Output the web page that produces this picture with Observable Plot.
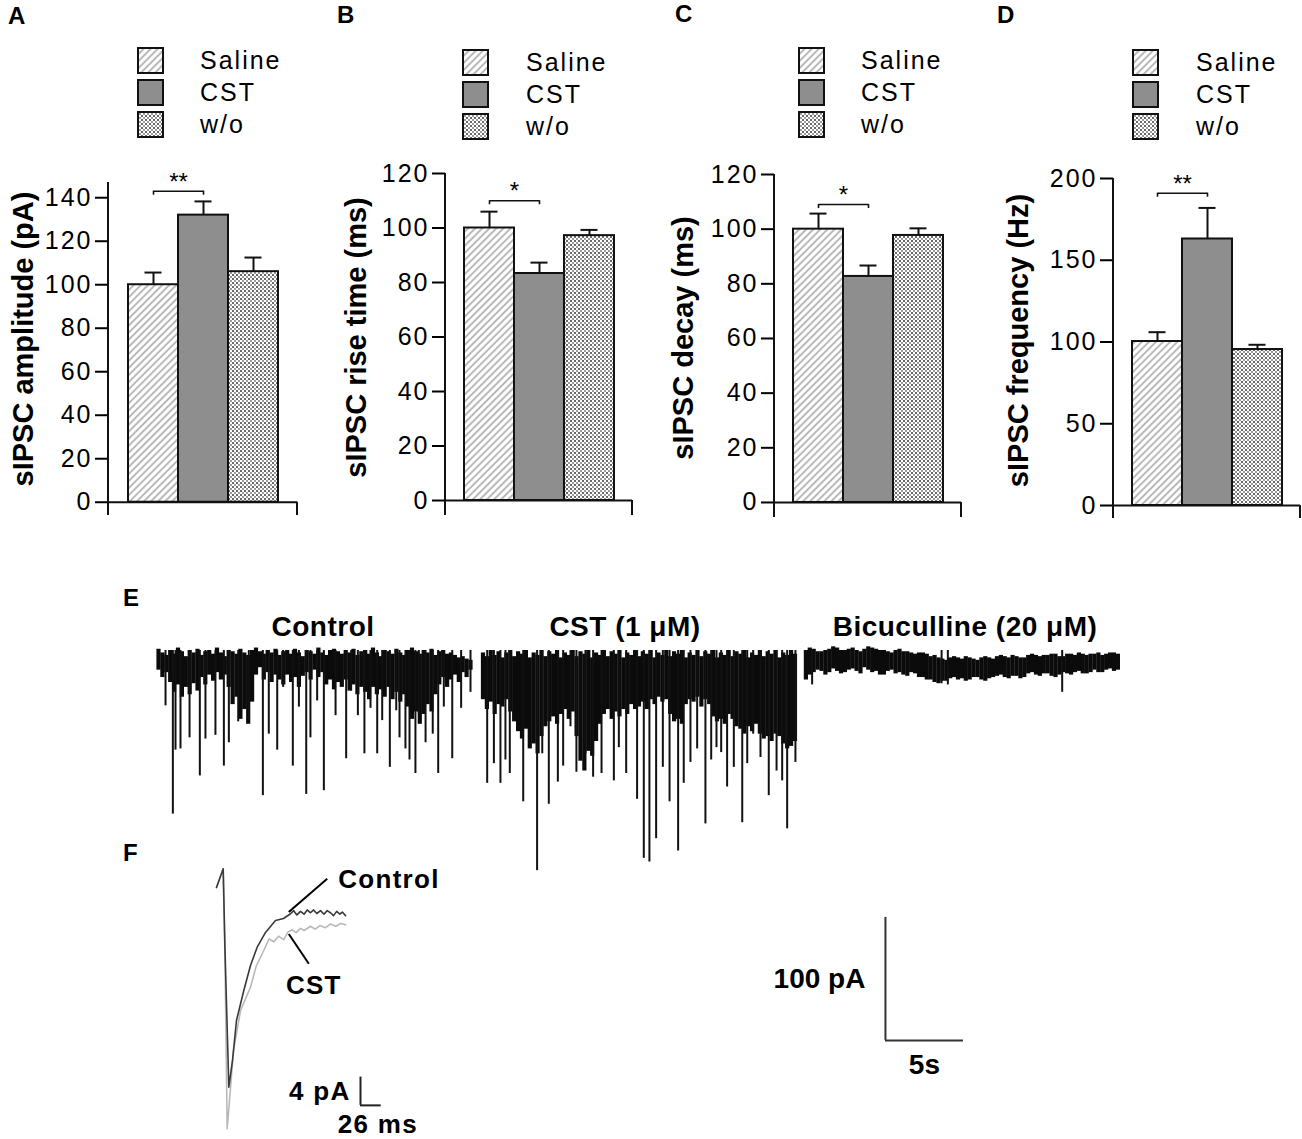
<!DOCTYPE html>
<html>
<head>
<meta charset="utf-8">
<script src="https://cdn.jsdelivr.net/npm/d3@7"></script>
<script src="https://cdn.jsdelivr.net/npm/@observablehq/plot@0.6"></script>
<style>
  html,body{margin:0;padding:0;background:#fff;}
  #fig{position:relative;width:1302px;height:1139px;overflow:hidden;background:#fff;
       font-family:"Liberation Sans",Arial,Helvetica,sans-serif;color:#000;}
  .abs{position:absolute;white-space:nowrap;line-height:1;}
  .panel{font-weight:bold;font-size:24px;letter-spacing:1px;}
  .leg{font-size:25px;letter-spacing:2px;line-height:25px;height:25px;}
  .ttl{font-weight:bold;font-size:28px;letter-spacing:0.5px;transform:translateX(-50%);}
</style>
</head>
<body>
<svg width="0" height="0" style="position:absolute">
 <defs>
  <pattern id="hatch" patternUnits="userSpaceOnUse" width="5" height="5" patternTransform="rotate(45)">
    <rect width="5" height="5" fill="#fff"/>
    <line x1="1" y1="0" x2="1" y2="5" stroke="#8c8c8c" stroke-width="1.2"/>
  </pattern>
  <pattern id="checker" patternUnits="userSpaceOnUse" width="4" height="4">
    <rect width="4" height="4" fill="#fff"/>
    <rect x="0" y="0" width="2" height="2" fill="#6a6a6a"/>
    <rect x="2" y="2" width="2" height="2" fill="#9a9a9a"/>
  </pattern>
 </defs>
</svg>
<div id="fig"></div>
<script>
// ================= DATA =================
const groups = ["Saline", "CST", "w/o"];

const amplitudeMean = [100, 132, 106];
const amplitudeSem  = [5.6, 6.3, 6.5];
const riseMean  = [100, 83.3, 97.2];
const riseSem   = [6.0, 4.0, 2.1];
const decayMean = [100, 82.7, 97.7];
const decaySem  = [5.7, 4.0, 2.6];
const freqMean  = [100.3, 163, 95.4];
const freqSem   = [5.7, 19, 2.9];

const amplitudeTicks = [0, 20, 40, 60, 80, 100, 120, 140];
const riseTicks  = [0, 20, 40, 60, 80, 100, 120];
const decayTicks = [0, 20, 40, 60, 80, 100, 120];
const freqTicks  = [0, 50, 100, 150, 200];

const sigAmplitude = {from: "Saline", to: "CST", y: 143, stars: "**"};
const sigRise      = {from: "Saline", to: "CST", y: 110, stars: "*"};
const sigDecay     = {from: "Saline", to: "CST", y: 109, stars: "*"};
const sigFreq      = {from: "Saline", to: "CST", y: 191, stars: "**"};

// Panel E: sampled noise envelope of each recording (pA), one sample every 0.25 s
const sampleInterval = 0.25;
const controlStart = 0;
const controlTop = [
  1,-2,-4,0,-3,2,-1,-5,0,-2,   1,-4,-1,0,-3,2,-2,-5,0,-1,
 -3,1,-2,-4,0,2,-1,-3,0,-2,    1,-4,-1,0,-3,1,-2,-5,0,-1,
 -3,2,-2,-4,0,1,-1,-3,0,-2,    1,-4,-1,0,-3,2,-2,-5,0,-1,
 -3,1,-2,-4,0,2,-1,-3,0,-2,    1,-4,-1,0,-3,-2,-4,-6,-5,-7, -8
];
const controlBottom = [
 -16,-22,-18,-26,-34,-28,-38,-30,-36,-27,  -33,-22,-28,-20,-25,-18,-24,-20,-30,-44,
 -38,-56,-48,-60,-42,-20,-14,-24,-18,-26,  -20,-24,-28,-20,-26,-22,-30,-21,-18,-24,
 -16,-22,-18,-28,-24,-32,-26,-30,-24,-33,  -28,-36,-30,-34,-40,-30,-36,-32,-38,-30,
 -40,-34,-42,-36,-46,-56,-50,-60,-52,-44,  -50,-36,-28,-22,-30,-24,-20,-26,-18,-22, -16
];
const cstStart = 20.8;
const cstTop = [
 -2,-5,0,-4,-1,-6,-2,0,-5,-1,  -3,0,-6,-2,-4,0,-5,-1,-3,0,
 -6,-2,-4,0,-5,-1,-3,0,-6,-2,  -4,0,-5,-1,-3,0,-6,-2,-4,0,
 -5,-1,-3,0,-6,-2,-4,0,-5,-1,  -3,0,-6,-2,-4,0,-5,-1,-3,0,
 -6,-2,-4,0,-5,-1,-3,0,-6,-2,  -4,0,-5,-1,-3,0,-6,-2,-4,0, -3
];
const cstBottom = [
 -40,-48,-42,-52,-44,-46,-40,-50,-58,-66,  -72,-64,-80,-76,-84,-70,-62,-58,-54,-60,
 -52,-48,-56,-50,-70,-90,-98,-82,-86,-74,  -60,-52,-48,-56,-50,-54,-48,-52,-44,-48,
 -46,-42,-48,-40,-44,-38,-42,-40,-52,-58,  -56,-60,-44,-40,-42,-38,-46,-40,-44,-54,
 -58,-56,-60,-52,-56,-62,-64,-68,-62,-66,  -60,-68,-72,-70,-74,-68,-70,-76,-80,-78, -74
];
const bicStart = 41.5;
const bicTop = [
  0,2,1,-1,-1,0,1,3,2,0,       0,1,2,0,-1,1,3,2,1,0,
  0,-1,-2,0,1,-1,-1,-2,-3,-2,  -2,-3,-5,-4,-6,-7,-8,-6,-5,-6,
 -7,-5,-6,-7,-8,-6,-5,-6,-7,-5, -4,-5,-6,-4,-5,-6,-6,-4,-3,-4,
 -5,-4,-4,-3,-3,-5,-5,-3,-3,-4, -2,-3,-4,-3,-3,-2,-4,-3,-2,-2, -3
];
const bicBottom = [
 -24,-20,-18,-16,-17,-20,-18,-15,-17,-19,  -18,-16,-15,-17,-19,-14,-16,-18,-17,-20,
 -20,-17,-16,-19,-18,-20,-21,-18,-19,-22,  -22,-24,-24,-26,-27,-25,-25,-23,-22,-24,
 -23,-25,-24,-22,-22,-24,-25,-23,-22,-21,  -20,-22,-23,-21,-21,-23,-22,-19,-18,-20,
 -21,-19,-19,-21,-22,-20,-18,-19,-20,-18,  -17,-19,-19,-18,-16,-18,-18,-16,-15,-17, -16
];
// Event tips [t (s), peak current (pA)]
const controlSpikes = [
 [0.45,-45],[0.92,-133],[1.09,-81],[1.41,-80],[1.99,-71],[2.65,-102],[3.01,-72],[3.65,-69],[4.19,-94],
 [4.51,-75],[5.11,-58],[5.79,-57],[6.69,-118],[7.07,-68],[7.61,-81],[7.99,-30],[8.61,-94],[9.0,-46],
 [9.47,-117],[9.74,-71],[10.17,-41],[10.6,-114],[11.35,-53],[12.03,-88],[12.35,-33],[12.78,-53],
 [13.2,-84],[13.59,-47],[14.02,-84],[14.34,-57],[14.83,-95],[15.24,-49],[15.45,-71],[15.83,-80],
 [16.09,-89],[16.47,-100],[16.69,-52],[17.12,-75],[17.58,-68],[17.93,-100],[18.29,-46],[18.83,-88],
 [19.4,-47],[20.0,-34]
];
const cstSpikes = [
 [21.07,-108],[21.5,-92],[21.92,-108],[22.24,-89],[22.52,-100],[23.38,-123],[24.27,-179],[24.6,-84],
 [25.02,-125],[25.6,-107],[25.94,-94],[26.41,-62],[26.79,-99],[27.37,-84],[27.86,-103],[28.4,-100],
 [29.19,-106],[29.51,-79],[29.98,-100],[30.68,-121],[31.11,-169],[31.47,-172],[31.9,-153],[32.33,-95],
 [32.76,-123],[33.31,-163],[33.67,-108],[34.1,-91],[34.53,-80],[35.06,-141],[35.43,-89],[35.77,-79],
 [36.07,-83],[36.45,-111],[36.88,-95],[37.42,-140],[37.74,-92],[38.12,-68],[38.59,-87],[39.12,-118],
 [39.62,-98],[39.98,-106],[40.3,-145],[40.83,-91]
];
const bicSpikes = [[41.9,-28],[50.2,-27],[50.6,-28],[57.93,-34]];
const traceTitles = ["Control", "CST (1 μM)", "Bicuculline (20 μM)"];
const eScaleBar = {t: 46.6, i: -317, dt: 5, di: 100, tLabel: "5s", iLabel: "100 pA"};

// Panel F averaged sIPSCs: [time (ms), current (pA)]
const fControl = [
 [0,3.67],[8.4,6.31],[10.7,-5.23],[15.5,-24.53],[20.1,-20.76],[25.1,-15.11],[34.3,-10.88],[42.7,-7.34],
 [51.1,-4.76],[61.6,-2.68],[74.1,-0.99],[84.2,-0.71],[93,-0.04],[97,0.4],[101,-0.2],[105.5,0.3],[110,-0.1],
 [114,0.5],[118.1,0.1],[122,0.5],[126,0],[130.7,0.4],[135,-0.1],[139,0.4],[143.2,0.1],[147,-0.3],
 [151,0.3],[155,-0.1],[158,0.2],[162.1,-0.3]
];
const fCst = [
 [0,3.67],[8.4,6.31],[10.7,-6.64],[13.4,-30.41],[16.3,-26.41],[21.4,-19.35],[30.2,-13.7],[42.7,-10.41],
 [50,-7.4],[59.4,-5.23],[66,-3.6],[72,-4.0],[78,-3.2],[84.5,-3.7],[90,-2.6],[95.1,-2.3],[100,-2.7],
 [105.5,-2.1],[110,-2.4],[118.1,-1.8],[124,-2.2],[130,-1.7],[137,-2.0],[143,-1.5],[150,-1.8],[156,-1.4],[162.1,-1.6]
];
const fLeaders = [
 {label: "Control", t1: 90.8, i1: 0.2, t2: 139.1, i2: 4.9},
 {label: "CST", t1: 90.8, i1: -2.9, t2: 116, i2: -7.1}
];
const fScaleBar = {t: 180.9, i: -27.1, dt: 26, di: 4, tLabel: "26 ms", iLabel: "4 pA"};

// ================= STYLE / LAYOUT =================
const FONT = "Liberation Sans, Arial, Helvetica, sans-serif";
const fills = {"Saline": "url(#hatch)", "CST": "#8e8e8e", "w/o": "url(#checker)"};
const INK = "#111";
const fig = document.getElementById("fig");

function addDiv(cls, html, left, top, extra = "") {
  const d = document.createElement("div");
  d.className = "abs " + cls;
  d.style.cssText += `left:${left}px;top:${top}px;${extra}`;
  d.innerHTML = html;
  fig.appendChild(d);
  return d;
}
function place(node, left, top) {
  const d = document.createElement("div");
  d.className = "abs";
  d.style.left = left + "px"; d.style.top = top + "px";
  d.appendChild(node);
  fig.appendChild(d);
}

const panels = [
 {letter:"A", lx:8, ly:4, title:"sIPSC amplitude (pA)", mean:amplitudeMean, sem:amplitudeSem, ticks:amplitudeTicks, sig:sigAmplitude,
  left:0, top:170, w:310, h:360, ml:108, mr:13, mt:12, mb:15, yDomain:[-6.1,147], tdx:-85, tdy:-10, leg:{x:138, y:48, tx:200}},
 {letter:"B", lx:337, ly:3, title:"sIPSC rise time (ms)", mean:riseMean, sem:riseSem, ticks:riseTicks, sig:sigRise,
  left:330, top:160, w:310, h:370, ml:115, mr:8, mt:13, mb:15, yDomain:[-5.5,120], tdx:-89, tdy:-7, leg:{x:463, y:50, tx:526}},
 {letter:"C", lx:675, ly:2, title:"sIPSC decay (ms)", mean:decayMean, sem:decaySem, ticks:decayTicks, sig:sigDecay,
  left:655, top:160, w:315, h:370, ml:119, mr:9, mt:14, mb:13, yDomain:[-5.5,120], tdx:-91, tdy:-8, leg:{x:799, y:48, tx:861}},
 {letter:"D", lx:997, ly:3, title:"sIPSC frequency (Hz)", mean:freqMean, sem:freqSem, ticks:freqTicks, sig:sigFreq,
  left:985, top:165, w:317, h:365, ml:128, mr:2, mt:13, mb:12, yDomain:[-7.95,200], tdx:-95, tdy:-8, leg:{x:1133, y:50, tx:1196}}
];

for (const P of panels) {
  addDiv("panel", P.letter, P.lx, P.ly);
  groups.forEach((g, k) => {
    const y = P.leg.y + k * 32;
    addDiv("", `<svg width="27" height="27"><rect x="1" y="1" width="25" height="25" fill="${fills[g]}" stroke="${INK}" stroke-width="2"/></svg>`, P.leg.x - 1, y - 1);
    addDiv("leg", g, P.leg.tx, y);
  });

  const data = groups.map((g, k) => ({group: g, value: P.mean[k], sem: P.sem[k]}));
  const plot = Plot.plot({
    width: P.w, height: P.h,
    marginLeft: P.ml, marginRight: P.mr, marginTop: P.mt, marginBottom: P.mb,
    style: {fontFamily: FONT, color: "#000", background: "transparent", overflow: "visible", maxWidth: "none"},
    x: {domain: groups, paddingInner: 0, paddingOuter: 0.37, axis: null},
    y: {domain: P.yDomain, axis: null},
    marks: [
      ...groups.map(g => Plot.barY(data.filter(d => d.group === g),
        {x: "group", y: "value", fill: fills[g], stroke: INK, strokeWidth: 2})),
      Plot.ruleX(data, {x: "group", y1: "value", y2: d => d.value + d.sem, stroke: INK, strokeWidth: 2}),
      Plot.tickY(data, {x: "group", y: d => d.value + d.sem, stroke: INK, strokeWidth: 2, insetLeft: 16.5, insetRight: 16.5}),
      Plot.ruleY([0], {stroke: INK, strokeWidth: 2}),
      Plot.axisY({ticks: P.ticks, tickSize: 13, tickPadding: 3, fontSize: 25, strokeWidth: 2, label: null, tickFormat: d => String(d)}),
      Plot.link([P.sig], {x1: "from", x2: "to", y1: "y", y2: "y", stroke: INK, strokeWidth: 1.6}),
      Plot.ruleX([P.sig], {x: "from", y1: "y", y2: "y", insetBottom: -4, stroke: INK, strokeWidth: 1.6}),
      Plot.ruleX([P.sig], {x: "to", y1: "y", y2: "y", insetBottom: -4, stroke: INK, strokeWidth: 1.6}),
      Plot.text([P.sig], {x: "from", y: "y", text: "stars", dx: 25, dy: -9, fontSize: 24}),
      Plot.text([P.title], {frameAnchor: "left", textAnchor: "middle", rotate: -90, dx: P.tdx, dy: P.tdy, fontSize: 29, fontWeight: "bold"})
    ]
  });
  const svg = d3.select(plot);
  svg.selectAll('[aria-label="y-axis tick label"] text').style("letter-spacing", "2px");
  const y0 = plot.scale("y").apply(0);
  svg.append("line").attr("x1", P.ml).attr("x2", P.ml).attr("y1", P.mt).attr("y2", P.h - P.mb)
     .attr("stroke", INK).attr("stroke-width", 2);
  svg.append("line").attr("x1", P.w - P.mr).attr("x2", P.w - P.mr).attr("y1", y0).attr("y2", P.h - P.mb)
     .attr("stroke", INK).attr("stroke-width", 2);
  place(plot, P.left, P.top);
}

// ================= PANEL E =================
addDiv("panel", "E", 123, 586);
function envelope(name, start, top, bottom) {
  return top.map((v, k) => ({trace: name, t: start + k * sampleInterval, top: v, bot: bottom[k]}));
}
const bands = [
  ...envelope("Control", controlStart, controlTop, controlBottom),
  ...envelope("CST", cstStart, cstTop, cstBottom),
  ...envelope("Bic", bicStart, bicTop, bicBottom)
];
const spikes = [...controlSpikes, ...cstSpikes, ...bicSpikes].map(([t, amp]) => ({t, amp}));

const plotE = Plot.plot({
  width: 1000, height: 480, margin: 0,
  style: {fontFamily: FONT, color: "#000", background: "transparent", overflow: "visible", maxWidth: "none"},
  x: {domain: [-1.154, 62.95], axis: null},
  y: {domain: [-349.6, 40.65], axis: null},
  marks: [
    Plot.ruleX(bands, {x: "t", y1: "top", y2: "bot", stroke: "#0b0b0b", strokeWidth: 4.2}),
    Plot.ruleX(spikes, {x: "t", y1: () => 0, y2: "amp", stroke: "#111", strokeWidth: 2}),
    Plot.ruleX([eScaleBar], {x: "t", y1: "i", y2: d => d.i + d.di, stroke: "#333", strokeWidth: 2}),
    Plot.ruleY([eScaleBar], {y: "i", x1: "t", x2: d => d.t + d.dt, stroke: "#333", strokeWidth: 2}),
    Plot.text([eScaleBar], {x: "t", y: d => d.i + d.di / 2, text: "iLabel", textAnchor: "end", dx: -20, fontSize: 28, fontWeight: "bold"}),
    Plot.text([eScaleBar], {x: d => d.t + d.dt / 2, y: "i", text: "tLabel", dy: 25, fontSize: 28, fontWeight: "bold"})
  ]
});
place(plotE, 140, 600);
const titleX = [323, 625, 965];
traceTitles.forEach((s, k) => addDiv("ttl", s, titleX[k], 613));

// ================= PANEL F =================
addDiv("panel", "F", 123, 841);
const fc = fControl.map(([t, i]) => ({t, i}));
const fs = fCst.map(([t, i]) => ({t, i}));
const leaderText = {"Control": {anchor: "start", dx: 11, dy: 1}, "CST": {anchor: "middle", dx: 5, dy: 22}};
const plotF = Plot.plot({
  width: 270, height: 284, margin: 0,
  style: {fontFamily: FONT, color: "#000", background: "transparent", overflow: "visible", maxWidth: "none"},
  x: {domain: [-20.1, 319.1], axis: null},
  y: {domain: [-31.92, 8.19], axis: null},
  marks: [
    Plot.line(fs, {x: "t", y: "i", stroke: "#b8b8b8", strokeWidth: 1.6}),
    Plot.line(fc, {x: "t", y: "i", stroke: "#3a3a3a", strokeWidth: 1.6}),
    Plot.link(fLeaders, {x1: "t1", y1: "i1", x2: "t2", y2: "i2", stroke: "#000", strokeWidth: 2}),
    ...fLeaders.map(L => Plot.text([L], {x: "t2", y: "i2", text: "label", textAnchor: leaderText[L.label].anchor,
        dx: leaderText[L.label].dx, dy: leaderText[L.label].dy, fontSize: 26, fontWeight: "bold"})),
    Plot.ruleX([fScaleBar], {x: "t", y1: "i", y2: d => d.i + d.di, stroke: "#222", strokeWidth: 2}),
    Plot.ruleY([fScaleBar], {y: "i", x1: "t", x2: d => d.t + d.dt, stroke: "#222", strokeWidth: 2}),
    Plot.text([fScaleBar], {x: "t", y: d => d.i + d.di / 2, text: "iLabel", textAnchor: "end", dx: -10, fontSize: 26, fontWeight: "bold"}),
    Plot.text([fScaleBar], {x: d => d.t + d.dt / 2, y: "i", text: "tLabel", dy: 19, dx: 7, fontSize: 26, fontWeight: "bold"})
  ]
});
d3.select(plotF).selectAll("text").style("letter-spacing", "1.3px");
place(plotF, 200, 855);
</script>
</body>
</html>
